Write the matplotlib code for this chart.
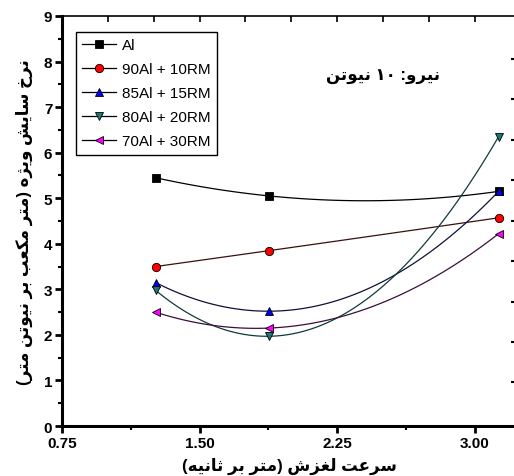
import numpy as np
import matplotlib
matplotlib.use("Agg")
import matplotlib.pyplot as plt

plt.rcParams['font.family'] = ['Liberation Sans', 'DejaVu Sans']

# data
speed = [1.26, 1.88, 3.13]
series_names = ['Al', '90Al + 10RM', '85Al + 15RM', '80Al + 20RM', '70Al + 30RM']
wear_al = [5.45, 5.05, 5.15]
wear_10 = [3.50, 3.85, 4.57]
wear_15 = [3.15, 2.52, 5.15]
wear_20 = [2.98, 1.97, 6.35]
wear_30 = [2.50, 2.15, 4.22]
xticks = [0.75, 1.50, 2.25, 3.00]
yticks = list(range(10))

x_label = 'سرعت لغزش (متر بر ثانیه)'
y_label = 'نرخ سایش ویژه (متر مکعب بر نیوتن متر)'
note = 'نیرو: ۱۰ نیوتن'

# simple arabic shaping (no reshaper lib available): isolated, final, initial, medial
forms = {
    'ا': ('\uFE8D', '\uFE8E', None, None),
    'ب': ('\uFE8F', '\uFE90', '\uFE91', '\uFE92'),
    'ت': ('\uFE95', '\uFE96', '\uFE97', '\uFE98'),
    'ث': ('\uFE99', '\uFE9A', '\uFE9B', '\uFE9C'),
    'خ': ('\uFEA5', '\uFEA6', '\uFEA7', '\uFEA8'),
    'ر': ('\uFEAD', '\uFEAE', None, None),
    'ز': ('\uFEAF', '\uFEB0', None, None),
    'ژ': ('\uFB8A', '\uFB8B', None, None),
    'س': ('\uFEB1', '\uFEB2', '\uFEB3', '\uFEB4'),
    'ش': ('\uFEB5', '\uFEB6', '\uFEB7', '\uFEB8'),
    'ع': ('\uFEC9', '\uFECA', '\uFECB', '\uFECC'),
    'غ': ('\uFECD', '\uFECE', '\uFECF', '\uFED0'),
    'ک': ('\uFB8E', '\uFB8F', '\uFB90', '\uFB91'),
    'ل': ('\uFEDD', '\uFEDE', '\uFEDF', '\uFEE0'),
    'م': ('\uFEE1', '\uFEE2', '\uFEE3', '\uFEE4'),
    'ن': ('\uFEE5', '\uFEE6', '\uFEE7', '\uFEE8'),
    'ه': ('\uFEE9', '\uFEEA', '\uFEEB', '\uFEEC'),
    'و': ('\uFEED', '\uFEEE', None, None),
    'ی': ('\uFBFC', '\uFBFD', '\uFBFE', '\uFBFF'),
}


def shape(text):
    out = []
    for i, c in enumerate(text):
        if c not in forms:
            out.append(c)
            continue
        prev = text[i - 1] if i > 0 else ''
        nxt = text[i + 1] if i + 1 < len(text) else ''
        join_prev = prev in forms and forms[prev][2] is not None
        join_next = nxt in forms and forms[c][2] is not None
        iso, fin, ini, med = forms[c]
        if join_prev and join_next:
            out.append(med)
        elif join_prev:
            out.append(fin)
        elif join_next:
            out.append(ini)
        else:
            out.append(iso)
    return out


def rtl(text):
    chars = shape(text)[::-1]
    mirror = {'(': ')', ')': '('}
    chars = [mirror.get(c, c) for c in chars]
    s = ''.join(chars)
    # keep digit runs left-to-right
    res, run = '', ''
    for c in s:
        if c.isdigit():
            run += c
        else:
            res += run[::-1] + c
            run = ''
    return res + run[::-1]


fig = plt.figure(figsize=(5.14, 4.77), dpi=100)
ax = fig.add_axes([0.1206, 0.1048, 0.885, 0.8596])

markers = ['s', 'o', '^', 'v', '<']
colors = ['black', 'red', 'blue', '#1a7a7a', 'magenta']
line_colors = ['black', '#3a1010', '#10103a', '#103a3a', '#3a103a']
all_wear = [wear_al, wear_10, wear_15, wear_20, wear_30]

for name, w, m, c, lc in zip(series_names, all_wear, markers, colors, line_colors):
    coef = np.polyfit(speed, w, 2)
    xs = np.linspace(speed[0], speed[-1], 100)
    ax.plot(xs, np.polyval(coef, xs), color=lc, lw=0.9)
    ax.plot(speed, w, linestyle='none', marker=m, color=c, markeredgecolor='black',
            markeredgewidth=0.6, markersize=6)
    ax.plot([], [], color='black', lw=0.9, marker=m, markerfacecolor=c,
            markeredgecolor='black', markeredgewidth=0.6, markersize=6, label=name)

ax.set_xlim(0.75, 3.23)
ax.set_ylim(0, 9)
ax.set_xticks(xticks)
ax.set_xticklabels(['%.2f' % v for v in xticks])
ax.set_xticks([1.125, 1.875, 2.625], minor=True)
ax.set_yticks(yticks)
ax.set_yticks(np.arange(0.5, 9, 1), minor=True)

for lab in ax.get_xticklabels() + ax.get_yticklabels():
    lab.set_fontweight('bold')
    lab.set_fontsize(11)

ax.tick_params(which='major', direction='out', length=5, width=2, pad=2)
ax.tick_params(which='minor', direction='out', length=3, width=1.5)

for sp in ['left', 'bottom']:
    ax.spines[sp].set_linewidth(2.2)
ax.spines['top'].set_linewidth(1.2)
ax.spines['right'].set_visible(False)

top = ax.secondary_xaxis('top')
top.set_xticks(np.arange(1.0, 3.2, 0.25))
top.set_xticklabels([])
top.tick_params(direction='in', length=4, width=1.2)
top.spines['top'].set_visible(False)

right = ax.secondary_yaxis('right')
right.set_yticks([0.96, 1.85, 2.72, 3.62, 4.51, 5.39, 6.28, 7.17, 8.06])
right.set_yticklabels([])
right.tick_params(direction='in', length=4, width=1.5)
right.spines['right'].set_visible(False)

leg = ax.legend(loc='upper left', bbox_to_anchor=(0.031, 0.961), borderaxespad=0,
                fontsize=11, handlelength=2.2, fancybox=False, framealpha=1,
                edgecolor='black', borderpad=0.4, labelspacing=0.66, handletextpad=0.4)
leg.get_frame().set_linewidth(1.0)

ax.text(2.5, 7.7, rtl(note), fontsize=12, fontweight='bold', ha='center', va='center')
ax.set_xlabel(rtl(x_label), fontsize=12, fontweight='bold', labelpad=5)
ax.set_ylabel(rtl(y_label), fontsize=12, fontweight='bold', labelpad=8)

fig.savefig('out.png', dpi=100)
